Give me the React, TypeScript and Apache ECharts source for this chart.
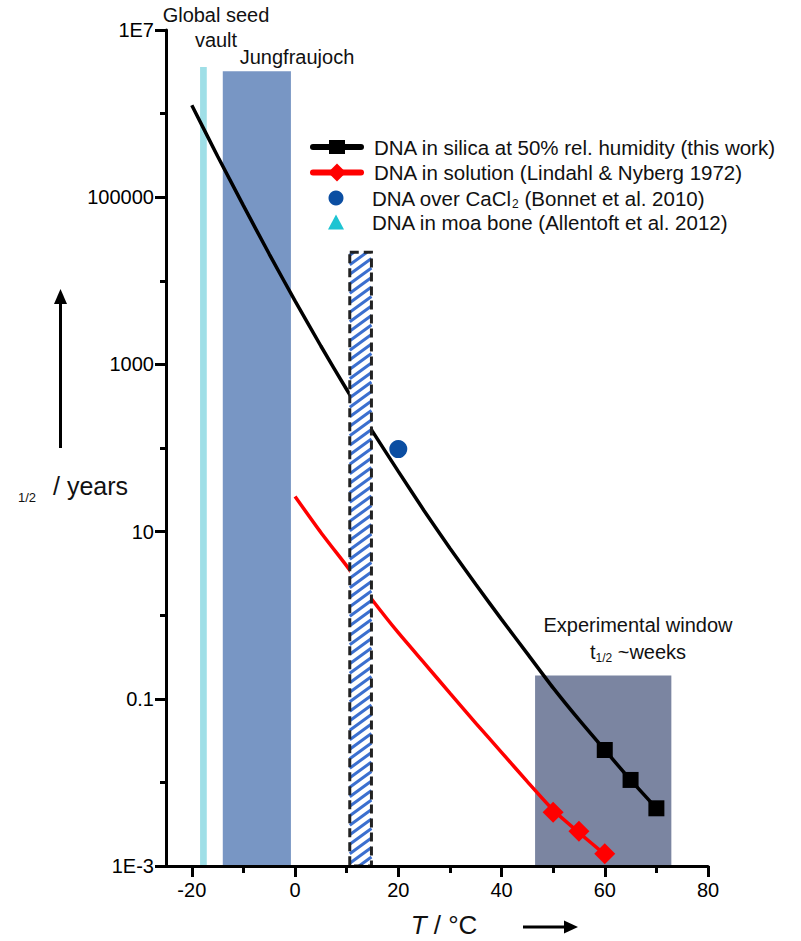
import React, { useEffect, useRef } from "react";
import * as echarts from "echarts";

// ---------- data ----------
const xMajorTicks = [-20, 0, 20, 40, 60, 80];
const xMinorTicks = [-10, 10, 30, 50, 70];
const yLabelExponents = [-3, -1, 1, 3, 5, 7];
const yLabelTexts = ["1E-3", "0.1", "10", "1000", "100000", "1E7"];

// DNA in silica at 50% rel. humidity — fitted curve (°C, years)
const silicaFitT = [-20, -15, -10, -5, 0, 5, 10, 15, 20, 25, 30, 35, 40, 45, 50, 55, 60, 65, 70];
const silicaFitYears = [1.26e6, 3.09e5, 7.94e4, 2.09e4, 5750, 1660, 501, 158, 52.5, 17.8, 6.31, 2.34, 0.891, 0.347, 0.135, 0.0562, 0.0244, 0.0107, 0.0049];
// measured points
const silicaMeasT = [60, 65, 70];
const silicaMeasYears = [0.0244, 0.0107, 0.0049];

// DNA in solution (Lindahl & Nyberg 1972)
const solutionFitT = [0, 5, 10, 15, 20, 25, 30, 35, 40, 45, 50, 55, 60];
const solutionFitYears = [26.3, 9.77, 3.89, 1.51, 0.617, 0.269, 0.117, 0.0513, 0.0229, 0.0102, 0.00468, 0.00251, 0.00138];
const solutionMeasT = [50, 55, 60];
const solutionMeasYears = [0.0044, 0.0026, 0.0014];

// DNA over CaCl2 (Bonnet et al. 2010)
const cacl2T = [20];
const cacl2Years = [97];

// DNA in moa bone (Allentoft et al. 2012) — not visible in plot
const moaT: number[] = [];
const moaYears: number[] = [];

// shaded temperature regions
const regionNames = ["Global seed vault", "Jungfraujoch", "Experimental window"];
const regionTStart = [-18.4, -14.0, 46.5];
const regionTEnd = [-17.1, -0.8, 72.9];
const regionTopYears = [3.6e6, 3.2e6, 0.19];
const regionColors = ["#9fdfe7", "#7896c4", "#7b85a1"];

// hatched region
const hatchTStart = [10.6];
const hatchTEnd = [14.8];
const hatchTopYears = [2.2e4];

const FONT = "'Liberation Sans', Arial, Helvetica, sans-serif";
const Y_MIN = -3;

const pairs = (xs: number[], ys: number[]) => xs.map((x, i) => [x, Math.log10(ys[i])]);

const NAME_SILICA = "DNA in silica at 50% rel. humidity (this work)";
const NAME_SOLUTION = "DNA in solution (Lindahl & Nyberg 1972)";
const NAME_CACL2 = "DNA over CaCl2 (Bonnet et al. 2010)";
const NAME_MOA = "DNA in moa bone (Allentoft et al. 2012)";

export default function App() {
  const ref = useRef<HTMLDivElement>(null);

  useEffect(() => {
    if (!ref.current) return;
    const chart = echarts.init(ref.current, null, { renderer: "svg" });

    const gridBox = { left: 166, right: 93, top: 30, bottom: 75 };

    const legendRows = [147, 172.5, 198, 222.5];
    const legendTextX = 374;
    const LFS = 20.5;

    const option: any = {
      animation: false,
      backgroundColor: "#ffffff",
      grid: [
        { ...gridBox, containLabel: false },
        { ...gridBox, containLabel: false },
      ],
      xAxis: [
        {
          type: "value",
          gridIndex: 0,
          min: -25,
          max: 80,
          z: 10,
          axisLine: { show: true, onZero: false, lineStyle: { color: "#000", width: 3 } },
          axisTick: { show: true, customValues: xMajorTicks, length: 11, lineStyle: { color: "#000", width: 3 } },
          axisLabel: { show: true, customValues: xMajorTicks, fontSize: 20, color: "#000", margin: 14, fontFamily: FONT },
          splitLine: { show: false },
        },
        {
          type: "value",
          gridIndex: 1,
          min: -25,
          max: 80,
          z: 10,
          axisLine: { show: false, onZero: false },
          axisTick: { show: true, customValues: xMinorTicks, length: 7, lineStyle: { color: "#000", width: 3 } },
          axisLabel: { show: false },
          splitLine: { show: false },
        },
      ],
      yAxis: [
        {
          type: "value",
          gridIndex: 0,
          min: Y_MIN,
          max: 7,
          interval: 2,
          z: 10,
          axisLine: { show: true, onZero: false, lineStyle: { color: "#000", width: 3 } },
          axisTick: { show: true, length: 11, lineStyle: { color: "#000", width: 3 } },
          axisLabel: {
            show: true,
            fontSize: 20,
            color: "#000",
            margin: 12,
            fontFamily: FONT,
            formatter: (v: number) => {
              const i = yLabelExponents.indexOf(Math.round(v));
              return i >= 0 ? yLabelTexts[i] : "";
            },
          },
          splitLine: { show: false },
        },
        {
          type: "value",
          gridIndex: 1,
          min: Y_MIN,
          max: 7,
          interval: 1,
          z: 10,
          axisLine: { show: false, onZero: false },
          axisTick: { show: true, length: 6, lineStyle: { color: "#000", width: 3 } },
          axisLabel: { show: false },
          splitLine: { show: false },
        },
      ],
      series: [
        {
          name: "Regions",
          type: "custom",
          xAxisIndex: 0,
          yAxisIndex: 0,
          z: 1,
          silent: true,
          encode: { x: [0, 1], y: 2 },
          data: regionTStart.map((t, i) => [t, regionTEnd[i], Math.log10(regionTopYears[i])]),
          renderItem: (params: any, api: any) => {
            const a = api.coord([api.value(0), api.value(2)]);
            const b = api.coord([api.value(1), Y_MIN]);
            return {
              type: "rect",
              shape: { x: a[0], y: a[1], width: b[0] - a[0], height: b[1] - a[1] },
              style: { fill: regionColors[params.dataIndex] },
            };
          },
        },
        {
          name: NAME_SILICA,
          type: "line",
          xAxisIndex: 0,
          yAxisIndex: 0,
          z: 3,
          smooth: 0.2,
          symbol: "rect",
          showSymbol: false,
          lineStyle: { color: "#000", width: 3.5 },
          itemStyle: { color: "#000" },
          data: pairs(silicaFitT, silicaFitYears),
        },
        {
          name: NAME_SILICA,
          type: "scatter",
          xAxisIndex: 0,
          yAxisIndex: 0,
          z: 4,
          symbol: "rect",
          symbolSize: 16,
          itemStyle: { color: "#000", opacity: 1 },
          data: pairs(silicaMeasT, silicaMeasYears),
        },
        {
          name: NAME_SOLUTION,
          type: "line",
          xAxisIndex: 0,
          yAxisIndex: 0,
          z: 3,
          smooth: 0.2,
          symbol: "diamond",
          showSymbol: false,
          lineStyle: { color: "#ff0000", width: 3.5 },
          itemStyle: { color: "#ff0000" },
          data: pairs(solutionFitT, solutionFitYears),
        },
        {
          name: NAME_SOLUTION,
          type: "scatter",
          xAxisIndex: 0,
          yAxisIndex: 0,
          z: 4,
          symbol: "diamond",
          symbolSize: 21,
          itemStyle: { color: "#ff0000", opacity: 1 },
          data: pairs(solutionMeasT, solutionMeasYears),
        },
        {
          name: NAME_CACL2,
          type: "scatter",
          xAxisIndex: 0,
          yAxisIndex: 0,
          z: 4,
          symbol: "circle",
          symbolSize: 18,
          itemStyle: { color: "#0b4ea2", opacity: 1 },
          data: pairs(cacl2T, cacl2Years),
        },
        {
          name: NAME_MOA,
          type: "scatter",
          xAxisIndex: 0,
          yAxisIndex: 0,
          z: 4,
          symbol: "triangle",
          symbolSize: 16,
          itemStyle: { color: "#1ec4d2", opacity: 1 },
          data: pairs(moaT, moaYears),
        },
        {
          name: "Hatched",
          type: "custom",
          xAxisIndex: 0,
          yAxisIndex: 0,
          z: 6,
          silent: true,
          encode: { x: [0, 1], y: 2 },
          data: hatchTStart.map((t, i) => [t, hatchTEnd[i], Math.log10(hatchTopYears[i])]),
          renderItem: (params: any, api: any) => {
            const a = api.coord([api.value(0), api.value(2)]);
            const b = api.coord([api.value(1), Y_MIN]);
            const L = a[0], T = a[1], R = b[0], B = b[1];
            const w = R - L;
            const rise = w * 0.72;
            const gap = 9.5;
            const children: any[] = [
              { type: "rect", shape: { x: L, y: T, width: w, height: B - T }, style: { fill: "#ffffff" } },
            ];
            for (let y0 = T + 3; y0 <= B + rise; y0 += gap) {
              let x1 = L, y1 = y0, x2 = R, y2 = y0 - rise;
              if (y1 > B) { x1 = L + ((y0 - B) / rise) * w; y1 = B; }
              if (y2 < T) { x2 = L + ((y0 - T) / rise) * w; y2 = T; }
              if (x2 - x1 < 1) continue;
              children.push({
                type: "line",
                shape: { x1, y1, x2, y2 },
                style: { stroke: "#3b6fcf", lineWidth: 3 },
              });
            }
            children.push({
              type: "rect",
              shape: { x: L, y: T, width: w, height: B - T },
              style: { fill: "none", stroke: "#222", lineWidth: 3, lineDash: [9, 5] },
            });
            return { type: "group", children };
          },
        },
      ],
      graphic: [
        // annotations
        { type: "text", x: 216, y: 15, style: { text: "Global seed", fontSize: 20, fontFamily: FONT, fill: "#111", align: "center", verticalAlign: "middle" } },
        { type: "text", x: 216, y: 40, style: { text: "vault", fontSize: 20, fontFamily: FONT, fill: "#111", align: "center", verticalAlign: "middle" } },
        { type: "text", x: 297, y: 57, style: { text: "Jungfraujoch", fontSize: 20, fontFamily: FONT, fill: "#111", align: "center", verticalAlign: "middle" } },
        { type: "text", x: 638, y: 625, style: { text: "Experimental window", fontSize: 20, fontFamily: FONT, fill: "#111", align: "center", verticalAlign: "middle" } },
        {
          type: "text", x: 638, y: 652,
          style: {
            text: "t{sub|1/2} ~weeks", fontSize: 20, fontFamily: FONT, fill: "#111", align: "center", verticalAlign: "middle", lineHeight: 24,
            rich: { sub: { fontSize: 12, fontFamily: FONT, fill: "#111", verticalAlign: "bottom", lineHeight: 14 } },
          },
        },
        // y axis name
        { type: "text", x: 27, y: 497, style: { text: "1/2", fontSize: 13, fontFamily: FONT, fill: "#111", align: "center", verticalAlign: "middle" } },
        { type: "text", x: 53, y: 486, style: { text: "/ years", fontSize: 25, fontFamily: FONT, fill: "#111", align: "left", verticalAlign: "middle" } },
        { type: "line", shape: { x1: 60.5, y1: 448, x2: 60.5, y2: 300 }, style: { stroke: "#000", lineWidth: 3 } },
        { type: "polygon", shape: { points: [[60.5, 289], [54, 304], [67, 304]] }, style: { fill: "#000" } },
        // x axis name
        {
          type: "text", x: 444, y: 925,
          style: {
            text: "{i|T} / °C", fontSize: 26, fontFamily: FONT, fill: "#111", align: "center", verticalAlign: "middle",
            rich: { i: { fontSize: 26, fontFamily: FONT, fontStyle: "italic", fill: "#111" } },
          },
        },
        { type: "line", shape: { x1: 523, y1: 927, x2: 566, y2: 927 }, style: { stroke: "#000", lineWidth: 3 } },
        { type: "polygon", shape: { points: [[578, 927], [564, 920.5], [564, 933.5]] }, style: { fill: "#000" } },
        // legend
        { type: "line", shape: { x1: 313, y1: legendRows[0], x2: 361, y2: legendRows[0] }, style: { stroke: "#000", lineWidth: 6, lineCap: "round" } },
        { type: "rect", shape: { x: 329, y: legendRows[0] - 7, width: 16, height: 14 }, style: { fill: "#000" } },
        { type: "line", shape: { x1: 313, y1: legendRows[1], x2: 361, y2: legendRows[1] }, style: { stroke: "#ff0000", lineWidth: 6, lineCap: "round" } },
        { type: "polygon", shape: { points: [[337, legendRows[1] - 9], [346, legendRows[1]], [337, legendRows[1] + 9], [328, legendRows[1]]] }, style: { fill: "#ff0000" } },
        { type: "circle", shape: { cx: 336, cy: legendRows[2], r: 7.5 }, style: { fill: "#0b4ea2" } },
        { type: "polygon", shape: { points: [[336, legendRows[3] - 8], [344, legendRows[3] + 7], [328, legendRows[3] + 7]] }, style: { fill: "#1ec4d2" } },
        { type: "text", x: legendTextX, y: legendRows[0], style: { text: NAME_SILICA, fontSize: LFS, fontFamily: FONT, fill: "#111", align: "left", verticalAlign: "middle" } },
        { type: "text", x: legendTextX, y: legendRows[1], style: { text: NAME_SOLUTION, fontSize: LFS, fontFamily: FONT, fill: "#111", align: "left", verticalAlign: "middle" } },
        {
          type: "text", x: legendTextX - 2, y: legendRows[2],
          style: {
            text: "DNA over CaCl{sub|2} (Bonnet et al. 2010)", fontSize: LFS, fontFamily: FONT, fill: "#111", align: "left", verticalAlign: "middle", lineHeight: 24,
            rich: { sub: { fontSize: 12, fontFamily: FONT, fill: "#111", verticalAlign: "bottom", lineHeight: 14 } },
          },
        },
        { type: "text", x: legendTextX - 2, y: legendRows[3], style: { text: NAME_MOA, fontSize: LFS, fontFamily: FONT, fill: "#111", align: "left", verticalAlign: "middle" } },
      ],
    };

    chart.setOption(option);
    return () => chart.dispose();
  }, []);

  return (
    <div
      ref={ref}
      style={{ position: "absolute", left: 0, top: 0, width: 801, height: 941, background: "#fff" }}
    />
  );
}
